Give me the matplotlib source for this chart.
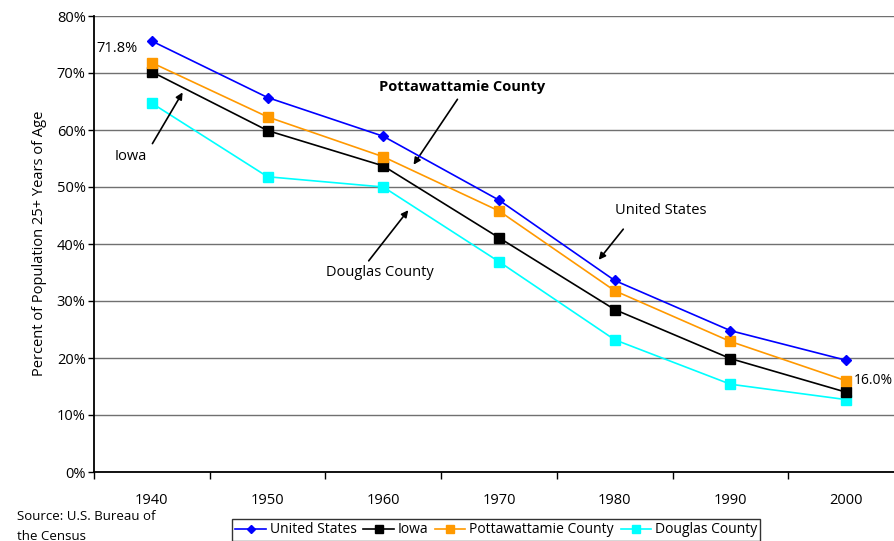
import matplotlib
matplotlib.use("Agg")
import matplotlib.pyplot as plt
from matplotlib.ticker import FixedLocator

plt.rcParams['font.family'] = ['Open Sans', 'DejaVu Sans']

years = ["1940", "1950", "1960", "1970", "1980", "1990", "2000"]
us = [75.6, 65.7, 58.9, 47.7, 33.6, 24.8, 19.6]
iowa = [70.2, 59.9, 53.7, 41.1, 28.5, 19.9, 14.0]
pott = [71.8, 62.3, 55.3, 45.8, 31.8, 22.9, 16.0]
douglas = [64.7, 51.8, 50.0, 36.9, 23.2, 15.4, 12.7]
series_names = ["United States", "Iowa", "Pottawattamie County", "Douglas County"]

W, H = 894, 541
FS = 10.5
fig = plt.figure(figsize=(W / 100, H / 100), dpi=100)
ax = fig.add_axes([94 / W, 1 - 472 / H, (904 - 94) / W, (472 - 16) / H])

x = list(range(len(years)))
ax.plot(x, us, color='#0000FF', marker='D', markersize=5, lw=1.2, label=series_names[0], zorder=5)
ax.plot(x, iowa, color='#000000', marker='s', markersize=7, lw=1.2, label=series_names[1], zorder=4)
ax.plot(x, pott, color='#FF9900', marker='s', markersize=7, lw=1.2, label=series_names[2], zorder=4)
ax.plot(x, douglas, color='#00FFFF', marker='s', markersize=7, lw=1.2, label=series_names[3], zorder=3)

ax.set_ylim(0, 80)
ax.set_xlim(-0.5, len(years) - 0.5)
ax.set_yticks(range(0, 81, 10))
ax.set_yticklabels([f"{v}%" for v in range(0, 81, 10)], fontsize=FS)
ax.yaxis.grid(True, color='#707070', lw=1.0)
ax.set_axisbelow(True)

ax.xaxis.set_major_locator(FixedLocator([i - 0.5 for i in range(len(years) + 1)]))
ax.set_xticklabels([])
ax.xaxis.set_minor_locator(FixedLocator(x))
ax.set_xticks(x, minor=True)
ax.set_xticklabels(years, minor=True, fontsize=FS)
ax.tick_params(axis='x', which='minor', length=0, pad=15)
ax.tick_params(axis='x', which='major', length=5, width=1)
ax.tick_params(axis='y', length=4, width=1, pad=2)

for s in ['top', 'right']:
    ax.spines[s].set_visible(False)
for s in ['left', 'bottom']:
    ax.spines[s].set_linewidth(1.3)
    ax.spines[s].set_color('black')

fig.text(40 / W, 1 - 243 / H, "Percent of Population 25+ Years of Age", rotation=90,
         ha='center', va='center', fontsize=FS)


def fx(px):
    return px / W


def fy(py):
    return 1 - py / H


fig.text(fx(117), fy(48), "71.8%", ha='center', va='center', fontsize=FS)
fig.text(fx(854), fy(381), "16.0%", ha='left', va='center', fontsize=10)

arrowprops = dict(arrowstyle='-|>', color='black', lw=1.2, mutation_scale=10)
ax.annotate("", xy=(fx(184), fy(90)), xycoords='figure fraction',
            xytext=(fx(151), fy(146)), textcoords='figure fraction', arrowprops=arrowprops)
fig.text(fx(131), fy(156), "Iowa", ha='center', va='center', fontsize=FS)

ax.annotate("", xy=(fx(412), fy(167)), xycoords='figure fraction',
            xytext=(fx(459), fy(97)), textcoords='figure fraction', arrowprops=arrowprops)
fig.text(fx(462), fy(87), "Pottawattamie County", ha='center', va='center', fontsize=FS, fontweight='bold')

ax.annotate("", xy=(fx(410), fy(208)), xycoords='figure fraction',
            xytext=(fx(367), fy(263)), textcoords='figure fraction', arrowprops=arrowprops)
fig.text(fx(380), fy(273), "Douglas County", ha='center', va='center', fontsize=FS)

ax.annotate("", xy=(fx(597), fy(262)), xycoords='figure fraction',
            xytext=(fx(625), fy(227)), textcoords='figure fraction', arrowprops=arrowprops)
fig.text(fx(661), fy(211), "United States", ha='center', va='center', fontsize=FS)

fig.text(fx(17), fy(516), "Source: U.S. Bureau of", ha='left', va='center', fontsize=9.5)
fig.text(fx(17), fy(536), "the Census", ha='left', va='center', fontsize=9.5)

leg = fig.legend(loc='upper left', bbox_to_anchor=(fx(232), fy(519)), ncol=4, frameon=True,
                 fancybox=False, edgecolor='black', fontsize=10, handlelength=2.2,
                 handletextpad=0.25, columnspacing=0.5, borderpad=0.25, borderaxespad=0,
                 markerscale=0.8)
leg.get_frame().set_linewidth(1.0)

fig.savefig("out.png", dpi=100)
